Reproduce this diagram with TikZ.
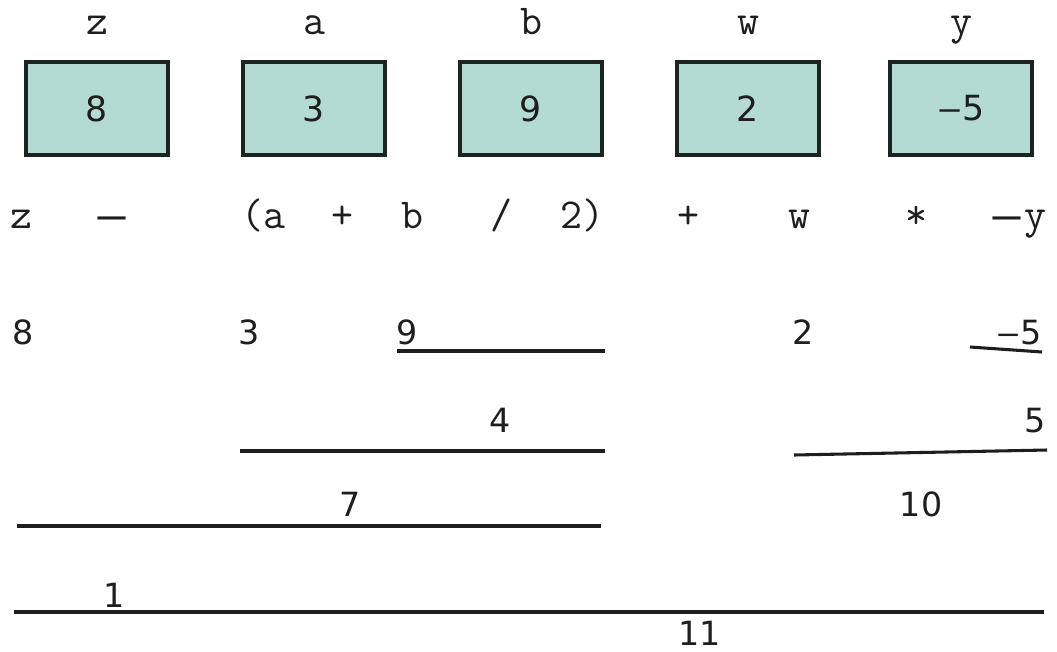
\documentclass[tikz,border=0pt]{standalone}
\usepackage{fontspec}
\newfontfamily\numfont{DejaVu Sans}
\definecolor{boxfill}{RGB}{179,219,211}
\definecolor{boxline}{RGB}{28,36,34}
\definecolor{ink}{RGB}{30,30,30}
\newcommand{\longdash}{\scalebox{1.45}[1]{–}}
\newcommand{\opdash}{{\numfont\fontsize{30}{36}\selectfont\raisebox{-2pt}{\scalebox{1.75}[1.1]{–}}}}
\tikzset{
  varname/.style={font=\ttfamily\fontsize{32}{36}\selectfont, anchor=base, inner sep=0pt, text=ink},
  cell/.style={draw=boxline, line width=2.4pt, fill=boxfill, minimum width=106.5pt, minimum height=69.75pt, inner sep=0pt,
    font=\numfont\fontsize{26}{30}\selectfont, text=ink},
  val/.style={font=\numfont\fontsize{25}{30}\selectfont, anchor=base, inner sep=0pt, text=ink},
  bar/.style={draw=ink, line width=2.3pt}
}
\begin{document}
\begin{tikzpicture}[x=0.75pt,y=-0.75pt]
\useasboundingbox (0,0) rectangle (1057,651);
% variable names
\node[varname] (nz) at (97,34) {z};
\node[varname] (na) at (314,34) {a};
\node[varname] (nb) at (531,34) {b};
\node[varname] (nw) at (748,34) {w};
\node[varname] (ny) at (961,34) {y};
% boxes
\node[cell] (bz) at (97,108.5) {8};
\node[cell] (ba) at (314,108.5) {3};
\node[cell] (bb) at (531,108.5) {9};
\node[cell] (bw) at (748,108.5) {2};
\node[cell] (by) at (961,108.5) {\longdash5};
% expression
\node[varname] (e1) at (21,228) {z};
\node[varname] (e2) at (112,228) {\opdash};
\node[varname] (e3) at (263,228) {(a};
\node[varname] (e4) at (342,228) {+};
\node[varname] (e5) at (412,228) {b};
\node[varname] (e6) at (501,228) {/};
\node[varname] (e7) at (582,228) {2)};
\node[varname] (e8) at (688,228) {+};
\node[varname] (e9) at (799,228) {w};
\node[varname] (e10) at (916,228) {*};
\node[varname] (e11) at (1018,228) {\opdash y};
% evaluation values
\node[val] (v8) at (23,344) {8};
\node[val] (v3) at (249,344) {3};
\node[val] (v9) at (407,344) {9};
\node[val] (v2) at (803,344) {2};
\node[val] (vm5) at (1019,344) {\longdash5};
\node[val] (v4) at (500,432) {4};
\node[val] (v5) at (1035,432) {5};
\node[val] (v7) at (350,516) {7};
\node[val] (v10) at (921,516) {10};
\node[val] (v1) at (114,607) {1};
\node[val] (v11) at (700,645) {11};
% bars
\coordinate (l9a) at (397,351); \coordinate (l9b) at (605,351);
\coordinate (l5a) at (970,347); \coordinate (l5b) at (1042,352);
\coordinate (l4a) at (240,451); \coordinate (l4b) at (605,451);
\coordinate (l10a) at (794,455); \coordinate (l10b) at (1047,450);
\coordinate (l7a) at (17,526); \coordinate (l7b) at (601,526);
\coordinate (l11a) at (14,612); \coordinate (l11b) at (1044,612);
\draw[bar] (l9a) -- (l9b);
\draw[bar] (l5a) -- (l5b);
\draw[bar] (l4a) -- (l4b);
\draw[bar] (l10a) -- (l10b);
\draw[bar] (l7a) -- (l7b);
\draw[bar] (l11a) -- (l11b);
\end{tikzpicture}
\end{document}
